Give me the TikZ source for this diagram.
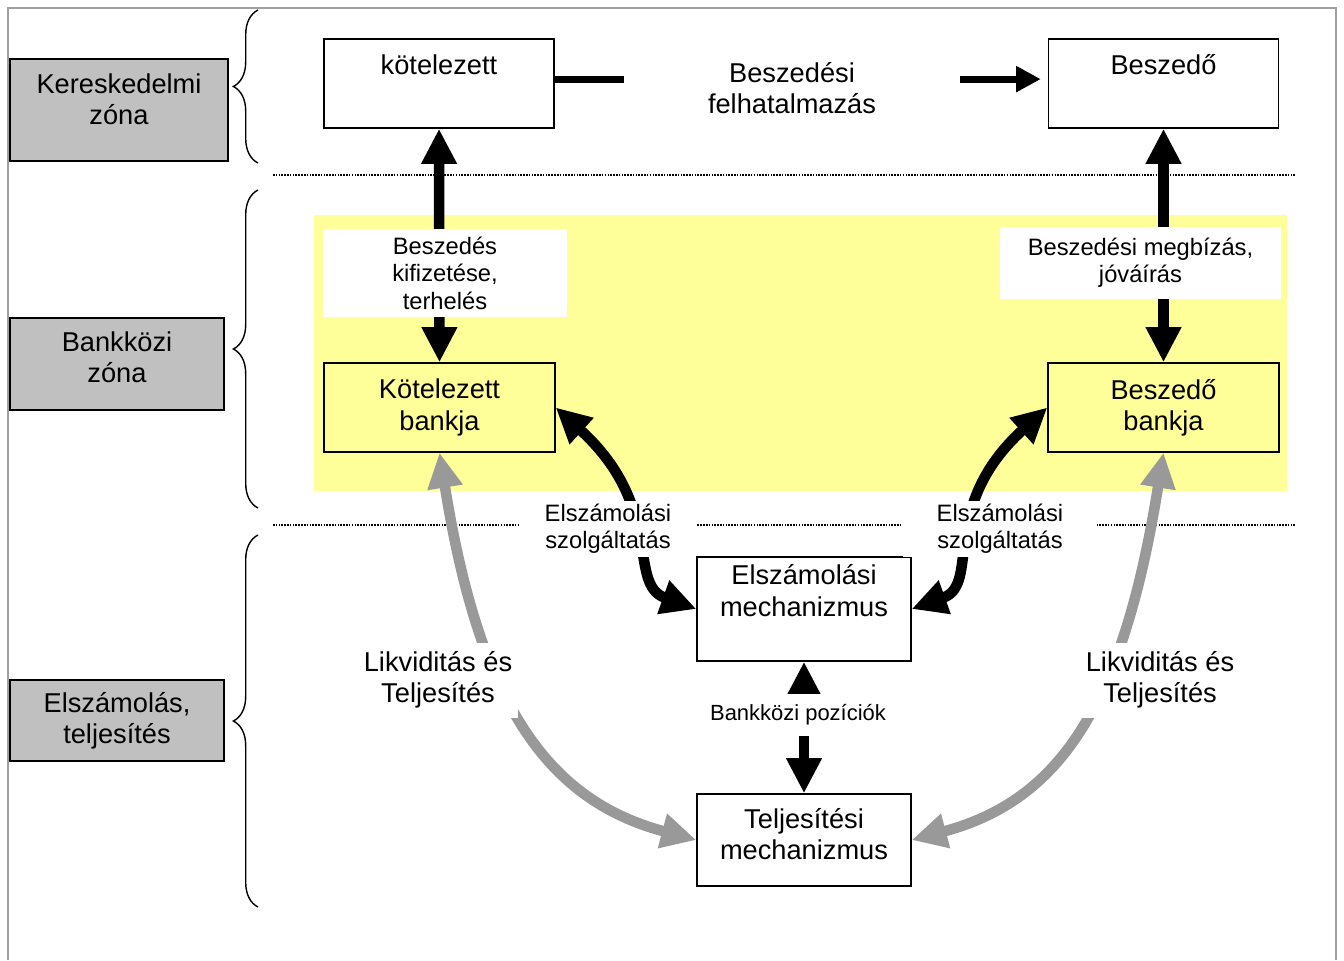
\documentclass[tikz,border=0pt]{standalone}
\usepackage{fontspec}
\setmainfont{Liberation Sans}
\usetikzlibrary{arrows.meta,decorations.pathreplacing}

\definecolor{zonegray}{RGB}{192,192,192}
\definecolor{bankyellow}{RGB}{255,255,153}
\definecolor{flowgray}{RGB}{153,153,153}
\definecolor{framegray}{RGB}{160,160,160}

\newcommand\bigtxt{\fontsize{15.5}{17.8}\selectfont}
\newcommand\smalltxt{\fontsize{13.5}{15.6}\selectfont}
\newcommand\tinytxt{\fontsize{12.5}{14}\selectfont}

\tikzset{
	zonebox/.style={draw, line width=0.8pt, fill=zonegray, align=center, font=\bigtxt, inner sep=0pt},
	mainbox/.style={draw, line width=0.8pt, fill=white, align=center, font=\bigtxt, inner sep=0pt},
	labelbox/.style={fill=white, align=center, inner sep=0pt},
	zonebrace/.style={decorate, decoration={brace, amplitude=14pt, aspect=0.5}, line width=0.8pt},
	zoneline/.style={line width=1.3pt, dash pattern=on 0.9pt off 0.7pt},
	flowarrow/.style={line width=6pt, {Triangle[width=19pt,length=20pt]}-{Triangle[width=19pt,length=20pt]}}
}

\begin{document}
\begin{tikzpicture}[x=0.02cm, y=-0.02cm]
	%%%%% START %%%%%
	\useasboundingbox (0,0) rectangle (1344,960);
	
	\draw[framegray, line width=1.2pt] (8,960) -- (8,8) -- (1336,8) -- (1336,960);
	
	\fill[bankyellow] (314,215) rectangle (1287,491);
	
	\draw[zoneline] (273,175) -- (1296,175);
	\draw[zoneline] (273,525) -- (1296,525);
	
	\draw[zonebrace] (258,163) -- (258,10);
	\draw[zonebrace] (258,508) -- (258,190);
	\draw[zonebrace] (258,907) -- (258,535);
	
	\node[zonebox, minimum width=4.36cm, minimum height=2.04cm, text depth=12pt] (kereskedelmi) at (119,110) {Kereskedelmi\\zóna};
	\node[zonebox, minimum width=4.28cm, minimum height=1.84cm, text depth=8pt] (bankkozi) at (117,364) {Bankközi\\zóna};
	\node[zonebox, minimum width=4.28cm, minimum height=1.62cm] (elszamolas) at (117,720.5) {Elszámolás,\\teljesítés};
	
	\node[mainbox, minimum width=4.6cm, minimum height=1.78cm, text depth=22pt] (kotelezett) at (439,83.5) {kötelezett};
	\node[mainbox, minimum width=4.6cm, minimum height=1.78cm, text depth=22pt] (beszedo) at (1163.5,83.5) {Beszedő};
	
	\node[mainbox, fill=bankyellow, minimum width=4.62cm, minimum height=1.78cm] (kbank) at (439.5,407.5) {Kötelezett\\bankja};
	\node[mainbox, fill=bankyellow, minimum width=4.62cm, minimum height=1.78cm] (bbank) at (1163.5,407.5) {Beszedő\\bankja};
	
	\node[mainbox, minimum width=4.28cm, minimum height=2.08cm, text depth=21pt] (elsz) at (804,609) {Elszámolási\\mechanizmus};
	\node[mainbox, minimum width=4.28cm, minimum height=1.84cm, text depth=6.8pt] (telj) at (804,840) {Teljesítési\\mechanizmus};
	
	\draw[line width=4pt, -{Triangle[width=14pt,length=14pt]}] ([yshift=2.5pt]kotelezett.east) -- ([yshift=2.5pt, xshift=-4pt]beszedo.west);
	
	\draw[flowarrow] (kotelezett.south) -- (kbank.north);
	\draw[flowarrow] (beszedo.south) -- (bbank.north);
	
	\draw[flowarrow] (kbank.east) .. controls +(110,100) and +(-70,-25) .. (elsz.west);
	\draw[flowarrow] (bbank.west) .. controls +(-110,100) and +(70,-25) .. (elsz.east);
	
	\draw[flowarrow, flowgray] (kbank.south) .. controls +(40,250) and +(-150,-40) .. (telj.west);
	\draw[flowarrow, flowgray] (bbank.south) .. controls +(-40,250) and +(150,-40) .. (telj.east);
	
	\draw[flowarrow] (elsz.south) -- (telj.north);
	
	\node[labelbox, font=\bigtxt, minimum width=6.74cm, minimum height=1.4cm] (felhatalmazas) at (792,88) {Beszedési\\felhatalmazás};
	\node[labelbox, font=\smalltxt, minimum width=4.88cm, minimum height=1.76cm] (kifizetes) at (445,273) {Beszedés\\kifizetése,\\terhelés};
	\node[labelbox, font=\smalltxt, minimum width=5.62cm, minimum height=1.44cm] (megbizas) at (1140.5,263) {Beszedési megbízás,\\jóváírás};
	
	\node[labelbox, font=\smalltxt, minimum width=3.52cm, minimum height=1.12cm] (szolgleft) at (608,529) {Elszámolási\\szolgáltatás};
	\node[labelbox, font=\smalltxt, minimum width=3.88cm, minimum height=1.12cm] (szolgright) at (1000,529) {Elszámolási\\szolgáltatás};
	
	\node[labelbox, font=\bigtxt, minimum width=3.2cm, minimum height=1.5cm] (likvleft) at (438,680) {Likviditás és\\Teljesítés};
	\node[labelbox, font=\bigtxt, minimum width=3.2cm, minimum height=1.5cm] (likvright) at (1160,680) {Likviditás és\\Teljesítés};
	
	\node[labelbox, font=\tinytxt, minimum width=3.8cm, minimum height=0.84cm] (poziciok) at (798,715) {Bankközi pozíciók};
	
	%%%%% END %%%%%
\end{tikzpicture}
\end{document}
